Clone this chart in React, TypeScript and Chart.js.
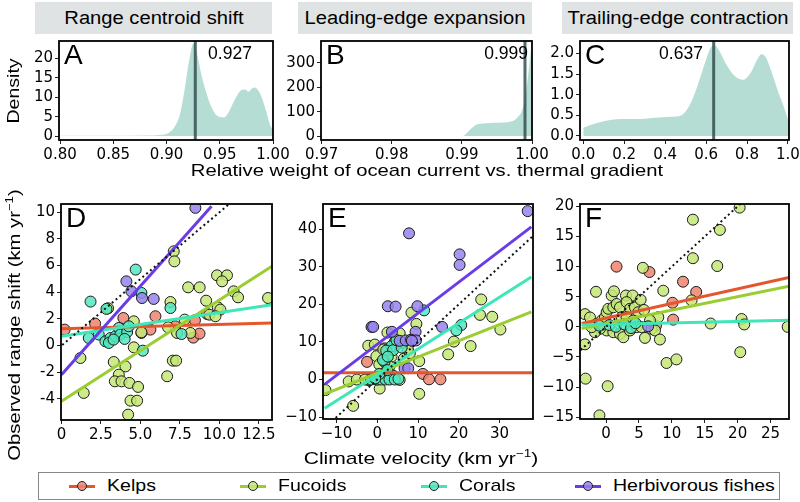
import React, { useEffect, useRef } from "react";
import { Chart, registerables } from "chart.js";
Chart.register(...registerables);

const FONT = "'Liberation Sans', Arial, Helvetica, sans-serif";
const TICK_FONT = "'DejaVu Sans', 'Liberation Sans', sans-serif";
type Pt = [number, number];

// ---------- Top row: posterior densities ----------
const densA_x = [0.8, 0.85, 0.88, 0.895, 0.903, 0.908, 0.913, 0.917, 0.92, 0.923, 0.925, 0.927, 0.93, 0.933, 0.937, 0.941, 0.945, 0.95, 0.954, 0.958, 0.962, 0.966, 0.97, 0.974, 0.977, 0.98, 0.983, 0.986, 0.99, 0.994, 0.997, 1.0];
const densA_y = [0.05, 0.05, 0.1, 0.3, 1, 2.5, 6, 12, 17.5, 22, 23.8, 23, 19.5, 15.5, 11.5, 8.2, 6, 4.9, 4.8, 6, 8.2, 10.3, 11.8, 12, 11.4, 12.2, 12.5, 11.8, 9.5, 6, 3, 1.5];
const densB_x = [0.97, 0.99, 0.9903, 0.9908, 0.9915, 0.9922, 0.993, 0.994, 0.995, 0.996, 0.997, 0.9975, 0.998, 0.9985, 0.999, 0.9995, 1.0];
const densB_y = [0, 0, 2, 15, 35, 48, 52, 54, 55, 56, 60, 65, 78, 100, 150, 260, 400];
const densC_x = [0, 0.05, 0.1, 0.15, 0.2, 0.25, 0.3, 0.35, 0.4, 0.45, 0.48, 0.52, 0.55, 0.58, 0.6, 0.62, 0.64, 0.66, 0.7, 0.74, 0.78, 0.82, 0.85, 0.87, 0.89, 0.92, 0.95, 0.98, 1.0];
const densC_y = [0.2, 0.29, 0.36, 0.4, 0.41, 0.41, 0.42, 0.44, 0.46, 0.47, 0.5, 0.75, 1.1, 1.55, 1.85, 2.12, 2.2, 2.1, 1.72, 1.45, 1.36, 1.55, 1.85, 1.98, 1.92, 1.55, 1.1, 0.7, 0.4];
const medianA = 0.927;
const medianB = 0.999;
const medianC = 0.637;

const stripTitles = ["Range centroid shift", "Leading-edge expansion", "Trailing-edge contraction"];
const panelLetters = ["A", "B", "C", "D", "E", "F"];

const ticksA_x = [0.8, 0.85, 0.9, 0.95, 1.0];
const ticksA_y = [0, 5, 10, 15, 20];
const ticksB_x = [0.97, 0.98, 0.99, 1.0];
const ticksB_y = [0, 100, 200, 300];
const ticksC_x = [0, 0.2, 0.4, 0.6, 0.8, 1.0];
const ticksC_y = [0, 0.5, 1.0, 1.5, 2.0];
const ticksD_x = [0, 2.5, 5, 7.5, 10, 12.5];
const ticksD_y = [-4, -2, 0, 2, 4, 6, 8, 10];
const ticksE_x = [-10, 0, 10, 20, 30];
const ticksE_y = [-10, 0, 10, 20, 30, 40];
const ticksF_x = [0, 5, 10, 15, 20, 25];
const ticksF_y = [-15, -10, -5, 0, 5, 10, 15, 20];

// ---------- Bottom row: observed range shift vs climate velocity ----------
const species = ["Kelps", "Fucoids", "Corals", "Herbivorous fishes"];

// Panel D
const kelpsD: Pt[] = [[0.2, 1.2], [2.13, 1.65], [3.92, 2.07], [5.95, 2.2], [5.63, 1.2], [5.06, 0.95], [8.45, 1.9], [9.22, 2.37], [8.35, 0.6], [8.74, 0.9], [7.2, 1.45]];
const fucoidsD: Pt[] = [[7.11, 7.07], [7.15, 6.32], [9.85, 5.27], [10.48, 5.27], [10.17, 4.82], [8.02, 4.37], [8.75, 4.37], [10.9, 4.07], [11.18, 3.62], [13.08, 3.57], [9.16, 3.37], [6.9, 3.27], [9.9, 2.87], [10.06, 2.7], [9.37, 2.32], [9.75, 2.2], [2.95, 2.8], [4.58, 1.82], [7.8, 1.95], [6.75, 1.37], [7.32, 0.95], [8.16, 0.95], [5.06, 1.0], [4.58, -0.13], [1.2, -0.93], [3.31, -1.23], [4.05, -1.56], [7.05, -1.13], [7.26, -1.13], [6.69, -2.3], [3.63, -2.18], [3.38, -2.68], [3.8, -2.68], [4.3, -2.8], [4.85, -3.1], [1.41, -3.55], [4.37, -4.13], [4.79, -4.13], [4.22, -5.18]];
const coralsD: Pt[] = [[4.7, 5.7], [1.84, 3.3], [5.06, 3.95], [6.9, 2.82], [2.85, 2.75], [1.73, 0.57], [2.36, 0.83], [2.78, 0.32], [3.1, 0.57], [3.0, 0.2], [3.42, 0.7], [3.63, 1.32], [3.73, 0.83], [4.16, 1.02], [4.26, 1.45], [5.15, -0.38], [7.6, 0.87], [3.3, 0.45], [4.0, 0.5]];
const fishesD: Pt[] = [[8.48, 10.33], [4.11, 4.82], [4.43, 4.07], [5.1, 3.57], [5.84, 3.5]];
const fitD_kelps: Pt[] = [[0, 1.27], [13.33, 1.7]];
const fitD_fucoids: Pt[] = [[0, -4.18], [13.33, 5.95]];
const fitD_corals: Pt[] = [[0, 0.7], [13.33, 3.07]];
const fitD_fishes: Pt[] = [[0, -2.18], [9.5, 10.45]];

// Panel E
const kelpsE: Pt[] = [[-2.5, 4.7], [1.8, 8.3], [11.2, 1.5], [12.7, 0.05], [15.5, 0.05], [1.0, 0.3], [3.0, 0.2]];
const fucoidsE: Pt[] = [[25.5, 21.3], [25.2, 17.2], [28.2, 16.7], [30.2, 13.3], [18.8, 10.1], [22.9, 8.9], [17.4, 6.7], [10.3, -3.8], [-5.9, -7.0], [-12.7, -2.8], [8.4, 17.8], [9.6, 14.8], [-2.2, 9.0], [-0.6, 9.3], [5.5, 12.3], [10.3, 4.9], [-7.0, -0.5], [-5.0, 0.0], [0.6, -2.4], [5.5, -0.1], [-0.2, 6.2], [3.5, 6.1], [1.5, 8.0], [3.0, 3.5], [0.5, 4.0], [2.0, 2.0], [1.0, 0.5], [-2.0, -0.2], [-3.0, 0.0], [6.5, 5.5], [8.0, 7.0], [4.5, 9.0], [2.5, 12.5], [0.0, 0.0], [4.0, 1.0], [7.5, 8.0]];
const coralsE: Pt[] = [[11.5, 18.4], [20.6, 14.5], [19.4, 13.1], [4.3, 10], [6.3, 9.8], [3.5, 8.9], [2.2, 7.7], [3.9, 7.8], [1.8, 4.7], [1.4, 5.2], [2.6, 6.1], [4.7, 10.5], [-1.5, 0], [0, 0], [1, 0], [2, 0], [3, 0], [4.3, 0], [5.2, 0.2], [0.5, 1.5], [-0.5, 0.3], [2.5, 2.5], [6.0, 8.5]];
const fishesE: Pt[] = [[36.9, 44.8], [7.8, 38.9], [20.2, 33.3], [20.2, 30.5], [2.6, 19.5], [4.5, 19.4], [9.85, 19.5], [-1.4, 14], [-1.0, 14], [15.9, 14], [3.6, 12.7], [9.4, 12.7], [5.5, 10.3], [7.0, 10.4], [8.3, 10.6], [9.5, 10.4], [6.7, 3.0], [7.6, 3.0], [8.5, 10.3]];
const fitE_kelps: Pt[] = [[-13.3, 1.8], [38.2, 1.8]];
const fitE_fucoids: Pt[] = [[-12.9, -3.86], [37.8, 18.0]];
const fitE_corals: Pt[] = [[-12.9, -7.66], [37.8, 27.3]];
const fitE_fishes: Pt[] = [[-12.9, -1.28], [37.8, 40.6]];

// Panel F
const kelpsF: Pt[] = [[1.6, 10.0], [6.6, 9.1], [11.7, 7.5], [13.7, 5.8], [10.1, 4.0], [10.2, 1.2], [7.6, 0.2]];
const fucoidsF: Pt[] = [[20.3, 19.8], [13.2, 17.8], [17.3, 16.1], [13.2, 11.4], [16.9, 10.1], [5.6, 9.8], [8.7, 6.0], [13.0, 4.4], [15.9, 0.55], [20.6, 1.3], [21.0, 0.4], [27.6, 0], [9.2, -6.0], [10.7, -5.4], [20.4, -4.2], [-3.1, -8.6], [0.25, -9.85], [-1.0, -14.7], [-3.19, -2.9], [-3.19, 2.11], [-2.43, 1.56], [-1.52, 5.82], [-1.42, 0.5], [-0.67, 1.05], [-0.16, 1.6], [0.1, 2.43], [0.86, 5.2], [1.21, 5.9], [0.35, 3.0], [1.11, 3.25], [1.62, 3.8], [2.12, 3.25], [2.38, 1.6], [3.03, 5.2], [4.04, 5.2], [3.13, 4.1], [3.64, 3.0], [4.39, 3.25], [4.9, 2.43], [5.26, 4.5], [5.77, 2.8], [3.13, 1.6], [4.14, 1.05], [0.1, -0.6], [1.11, -0.89], [2.12, -1.17], [2.63, -1.72], [3.64, -0.6], [4.65, -0.05], [5.41, -0.05], [5.92, -1.83], [6.93, -0.33], [7.44, -0.6], [8.19, -2.1], [7.94, 1.6], [6.68, 1.05], [-0.92, -0.33], [-1.68, -0.89], [-2.18, -0.05]];
const coralsF: Pt[] = [[0.5, 0.3], [1.5, 0.0], [2.8, 0.4], [3.8, -0.2], [4.5, 0.6], [-1.0, 0.2]];
const fishesF: Pt[] = [[6.4, 0.1]];
const fitF_kelps: Pt[] = [[-3.7, 0.56], [27.8, 8.2]];
const fitF_fucoids: Pt[] = [[-3.7, -0.27], [27.8, 6.76]];
const fitF_corals: Pt[] = [[-3.7, 0.3], [27.8, 1.1]];

// ---------- styling ----------
const lineColors = ["#E4572E", "#9ACD32", "#3EE6B8", "#6A3CE8"];
const pointColors = ["rgba(238,132,112,0.85)", "rgba(196,232,118,0.85)", "rgba(82,230,192,0.85)", "rgba(150,132,240,0.85)"];
const densityFill = "#b5ddd3";
const medianColor = "rgba(50,80,80,0.85)";

const PAD_L = 50, PAD_T = 12, PAD_R = 30, PAD_B = 26;

type Box = { l: number; t: number; r: number; b: number };
type PanelSpec = {
  box: Box;
  x: [number, number];
  y: [number, number];
  xt: number[];
  yt: number[];
  xf: (v: number) => string;
  yf: (v: number) => string;
  datasets: any[];
};

const xy = (a: Pt[]) => a.map(([x, y]) => ({ x, y }));
const zipXY = (xs: number[], ys: number[]) => xs.map((x, i) => ({ x, y: ys[i] }));
const minus = (s: string) => s.replace("-", "\u2212");

function scatterSet(pts: Pt[], si: number) {
  return { type: "scatter", data: xy(pts), backgroundColor: pointColors[si], borderColor: "#1a1a1a", borderWidth: 1, pointRadius: 5.5, order: 10 - si };
}
function fitSet(pts: Pt[], si: number) {
  return { type: "line", data: xy(pts), borderColor: lineColors[si], borderWidth: 3, pointRadius: 0, order: 5 - si, fill: false };
}
function oneToOne(a: number, b: number) {
  return { type: "line", data: [{ x: a, y: a }, { x: b, y: b }], borderColor: "#111", borderWidth: 2, borderDash: [2, 3], pointRadius: 0, order: 0, fill: false };
}
function densitySet(xs: number[], ys: number[]) {
  return { type: "line", data: zipXY(xs, ys), borderWidth: 0, borderColor: densityFill, backgroundColor: densityFill, fill: "origin", pointRadius: 0, cubicInterpolationMode: "monotone", order: 5 };
}
function medianSet(m: number, lo: number, hi: number) {
  return { type: "line", data: [{ x: m, y: lo }, { x: m, y: hi }], borderColor: medianColor, borderWidth: 3, pointRadius: 0, order: 1, fill: false };
}

const boxPlugin = {
  id: "panelBox",
  afterDatasetsDraw(chart: any) {
    const { ctx, chartArea } = chart;
    ctx.save();
    ctx.strokeStyle = "#000";
    ctx.lineWidth = 1.8;
    ctx.strokeRect(chartArea.left, chartArea.top, chartArea.right - chartArea.left, chartArea.bottom - chartArea.top);
    ctx.restore();
  },
};

function scaleOpts(range: [number, number], ticks: number[], fmt: (v: number) => string, isX: boolean) {
  return {
    type: "linear",
    min: range[0],
    max: range[1],
    afterBuildTicks: (s: any) => {
      s.ticks = ticks.map((v) => ({ value: v }));
    },
    afterFit: (s: any) => {
      if (isX) s.height = PAD_B;
      else s.width = PAD_L;
    },
    ticks: {
      callback: (v: any) => fmt(Number(v)),
      font: { size: 15, family: TICK_FONT },
      color: "#000",
      padding: 2,
      maxRotation: 0,
      autoSkip: false,
    },
    grid: { display: true, drawOnChartArea: false, drawTicks: true, tickLength: 4, color: "#222", lineWidth: 1 },
    border: { display: false },
  };
}

function Panel({ spec }: { spec: PanelSpec }) {
  const ref = useRef<HTMLCanvasElement>(null);
  const { box } = spec;
  const w = box.r - box.l + PAD_L + PAD_R;
  const h = box.b - box.t + PAD_T + PAD_B;
  useEffect(() => {
    if (!ref.current) return;
    const chart = new Chart(ref.current, {
      type: "scatter",
      data: { datasets: spec.datasets },
      options: {
        responsive: false,
        animation: false,
        devicePixelRatio: 1,
        layout: { padding: { left: 0, top: PAD_T, right: PAD_R, bottom: 0 } },
        plugins: { legend: { display: false }, tooltip: { enabled: false } },
        scales: {
          x: scaleOpts(spec.x, spec.xt, spec.xf, true),
          y: scaleOpts(spec.y, spec.yt, spec.yf, false),
        },
      } as any,
      plugins: [boxPlugin],
    } as any);
    return () => chart.destroy();
  }, []);
  return (
    <canvas
      ref={ref}
      width={w}
      height={h}
      style={{ position: "absolute", left: box.l - PAD_L, top: box.t - PAD_T, width: w, height: h }}
    />
  );
}

const f2 = (v: number) => v.toFixed(2);
const f1 = (v: number) => v.toFixed(1);
const f0 = (v: number) => String(v);
const fD = (v: number) => (v === 0 ? "0" : v.toFixed(1));

const panels: PanelSpec[] = [
  {
    box: { l: 59, t: 41, r: 273, b: 140 }, x: [0.799, 1.0], y: [-1.03, 24.5], xt: ticksA_x, yt: ticksA_y, xf: f2, yf: f0,
    datasets: [medianSet(medianA, -5, 50), densitySet(densA_x, densA_y)],
  },
  {
    box: { l: 321, t: 41, r: 532, b: 140 }, x: [0.96991, 1.0], y: [-16, 389], xt: ticksB_x, yt: ticksB_y, xf: f2, yf: f0,
    datasets: [medianSet(medianB, -50, 500), densitySet(densB_x, densB_y)],
  },
  {
    box: { l: 580, t: 41, r: 789, b: 140 }, x: [-0.016, 1.005], y: [-0.097, 2.3], xt: ticksC_x, yt: ticksC_y, xf: f1, yf: f1,
    datasets: [medianSet(medianC, -1, 5), densitySet(densC_x, densC_y)],
  },
  {
    box: { l: 61, t: 204, r: 272, b: 420 }, x: [-0.03, 13.33], y: [-5.58, 10.62], xt: ticksD_x, yt: ticksD_y, xf: fD, yf: f0,
    datasets: [
      oneToOne(-6, 12), fitSet(fitD_kelps, 0), fitSet(fitD_fucoids, 1), fitSet(fitD_corals, 2), fitSet(fitD_fishes, 3),
      scatterSet(kelpsD, 0), scatterSet(fucoidsD, 1), scatterSet(coralsD, 2), scatterSet(fishesD, 3),
    ],
  },
  {
    box: { l: 323, t: 204, r: 533, b: 419 }, x: [-13.3, 38.2], y: [-10.5, 46.7], xt: ticksE_x, yt: ticksE_y, xf: (v) => minus(f0(v)), yf: (v) => minus(f0(v)),
    datasets: [
      oneToOne(-12, 40), fitSet(fitE_kelps, 0), fitSet(fitE_fucoids, 1), fitSet(fitE_corals, 2), fitSet(fitE_fishes, 3),
      scatterSet(kelpsE, 0), scatterSet(fucoidsE, 1), scatterSet(coralsE, 2), scatterSet(fishesE, 3),
    ],
  },
  {
    box: { l: 580, t: 204, r: 789, b: 419 }, x: [-3.95, 27.8], y: [-15.3, 20.4], xt: ticksF_x, yt: ticksF_y, xf: (v) => minus(f0(v)), yf: (v) => minus(f0(v)),
    datasets: [
      oneToOne(-5, 22), fitSet(fitF_kelps, 0), fitSet(fitF_fucoids, 1), fitSet(fitF_corals, 2),
      scatterSet(kelpsF, 0), scatterSet(fucoidsF, 1), scatterSet(coralsF, 2), scatterSet(fishesF, 3),
    ],
  },
];

const strips = [
  { l: 35, r: 272 },
  { l: 298, r: 532 },
  { l: 562, r: 793 },
];

const abs = (s: React.CSSProperties): React.CSSProperties => ({ position: "absolute", whiteSpace: "nowrap", ...s });

export default function App() {
  const medianLabels = [
    { text: String(medianA), x: 230, y: 53, align: "center" },
    { text: String(medianB), x: 528, y: 53, align: "right" },
    { text: String(medianC), x: 681, y: 53, align: "center" },
  ];
  const legendX = [69, 240, 421, 575];
  return (
    <div style={{ position: "fixed", left: 0, top: 0, width: 800, height: 502, background: "#fff", fontFamily: FONT, color: "#000", overflow: "hidden" }}>
      {strips.map((s, i) => (
        <div key={i} style={abs({ left: s.l, top: 2, width: s.r - s.l, height: 32, background: "#e0e3e3" })}>
          <div style={abs({ left: "50%", top: "50%", fontSize: 18, transform: "translate(-50%,-50%) scaleX(1.12)" })}>{stripTitles[i]}</div>
        </div>
      ))}
      {panels.map((p, i) => (
        <Panel key={i} spec={p} />
      ))}
      {panels.map((p, i) => (
        <div key={"L" + i} style={abs({ left: p.box.l + 5, top: p.box.t - 1, fontSize: 28, lineHeight: "30px" })}>
          {panelLetters[i]}
        </div>
      ))}
      {medianLabels.map((m, i) => (
        <div key={"m" + i} style={abs({ left: m.x, top: m.y, fontSize: 17.5, transform: m.align === "center" ? "translate(-50%,-50%)" : "translate(-100%,-50%)" })}>
          {m.text}
        </div>
      ))}
      <div style={abs({ left: 14, top: 91, fontSize: 17, transform: "translate(-50%,-50%) rotate(-90deg) scaleX(1.15)" })}>Density</div>
      <div style={abs({ left: 427, top: 171, fontSize: 17, transform: "translate(-50%,-50%) scaleX(1.19)" })}>
        Relative weight of ocean current vs. thermal gradient
      </div>
      <div style={abs({ left: 14, top: 325, fontSize: 17, transform: "translate(-50%,-50%) rotate(-90deg) scaleX(1.19)" })}>
        Observed range shift (km yr<sup style={{ fontSize: 11 }}>{"\u22121"}</sup>)
      </div>
      <div style={abs({ left: 421, top: 458, fontSize: 17, transform: "translate(-50%,-50%) scaleX(1.24)" })}>
        Climate velocity (km yr<sup style={{ fontSize: 11 }}>{"\u22121"}</sup>)
      </div>
      <div style={abs({ left: 38, top: 472, width: 742, height: 28, border: "1.5px solid #888", boxSizing: "border-box" })} />
      {species.map((s, i) => (
        <React.Fragment key={"lg" + i}>
          <div style={abs({ left: legendX[i], top: 485, width: 26, height: 2.5, background: lineColors[i] })} />
          <div style={abs({ left: legendX[i] + 8, top: 481, width: 10, height: 10, borderRadius: "50%", background: pointColors[i], border: "1px solid #222", boxSizing: "border-box" })} />
          <div style={abs({ left: legendX[i] + 38, top: 486, fontSize: 17, transformOrigin: "0 50%", transform: "translateY(-50%) scaleX(1.15)" })}>{s}</div>
        </React.Fragment>
      ))}
    </div>
  );
}
